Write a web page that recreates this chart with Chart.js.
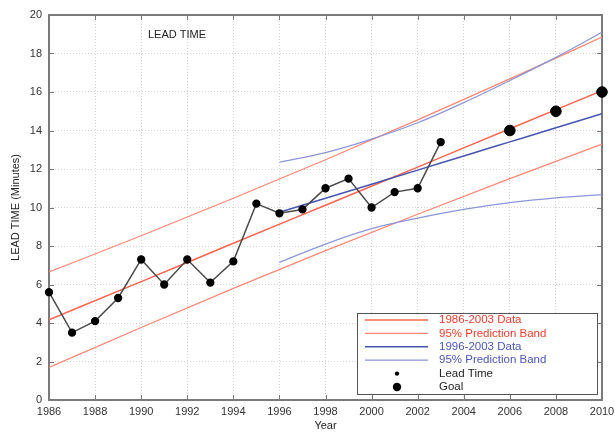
<!DOCTYPE html>
<html>
<head>
<meta charset="utf-8">
<script src="https://cdn.jsdelivr.net/npm/chart.js@4.4.1/dist/chart.umd.min.js"></script>
<style>
  html, body { margin: 0; padding: 0; background: #fff; }
  #wrap { width: 615px; height: 433px; }
</style>
</head>
<body>
<div id="wrap"><canvas id="chart"></canvas></div>
<script>
// observed lead time per year
const years = [1986, 1987, 1988, 1989, 1990, 1991, 1992, 1993, 1994, 1995, 1996, 1997, 1998, 1999, 2000, 2001, 2002, 2003];
const leadTime = [5.6, 3.5, 4.1, 5.3, 7.3, 6.0, 7.3, 6.1, 7.2, 10.2, 9.7, 9.9, 11.0, 11.5, 10.0, 10.8, 11.0, 13.4];

// goals
const goalYears = [2006, 2008, 2010];
const goalValues = [14, 15, 16];

// 1986-2003 fit and band
const fitYearsA = [1986, 1990, 1994, 1998, 2002, 2006, 2010];
const fitA = [4.17, 6.15, 8.14, 10.12, 12.1, 14.09, 16.07];
const bandAUpper = [6.65, 8.53, 10.48, 12.48, 14.55, 16.68, 18.85];
const bandALower = [1.69, 3.77, 5.8, 7.76, 9.65, 11.5, 13.29];

// 1996-2003 fit and band
const fitYearsB = [1996, 1998, 2000, 2002, 2004, 2006, 2008, 2010];
const fitB = [9.75, 10.48, 11.21, 11.94, 12.68, 13.41, 14.14, 14.87];
const bandBUpper = [12.35, 12.85, 13.55, 14.4, 15.45, 16.6, 17.8, 19.1];
const bandBLower = [7.15, 8.1, 8.9, 9.45, 9.9, 10.25, 10.5, 10.67];

const xTicks = [1986, 1988, 1990, 1992, 1994, 1996, 1998, 2000, 2002, 2004, 2006, 2008, 2010];
const yTicks = [0, 2, 4, 6, 8, 10, 12, 14, 16, 18, 20];

const FONT = '"Liberation Sans", Arial, sans-serif';

function pts(xs, ys) {
  return xs.map((x, i) => ({ x: x, y: ys[i] }));
}

const RED = 'rgb(250,100,80)';
const RED_BAND = 'rgb(252,135,115)';
const BLUE = 'rgb(70,85,175)';
const BLUE_BAND = 'rgb(140,150,215)';

function lineSet(label, data, color, width, order, legendText, hide) {
  return {
    label: label, data: data, borderColor: color, backgroundColor: color,
    borderWidth: width, pointRadius: 0, fill: false, order: order,
    cubicInterpolationMode: 'monotone', legendText: legendText, legendHide: hide
  };
}

const datasets = [
  {
    label: 'Lead Time', data: pts(years, leadTime), borderColor: '#4a4a4a', borderWidth: 1.5,
    pointRadius: 3.4, pointBackgroundColor: '#000', pointBorderColor: '#000', order: 0,
    clip: false, legendText: '#222', marker: 2.2
  },
  {
    label: 'Goal', data: pts(goalYears, goalValues), showLine: false, pointRadius: 5.3,
    pointBackgroundColor: '#000', pointBorderColor: '#000', order: 0,
    clip: false, legendText: '#222', marker: 4.2
  },
  lineSet('1986-2003 Data', pts(fitYearsA, fitA), RED, 1.5, 2, 'rgb(240,60,45)'),
  lineSet('95% Prediction Band', pts(fitYearsA, bandAUpper), RED_BAND, 1.2, 3, 'rgb(240,60,45)'),
  lineSet('', pts(fitYearsA, bandALower), RED_BAND, 1.2, 3, null, true),
  lineSet('1996-2003 Data', pts(fitYearsB, fitB), BLUE, 1.5, 1, 'rgb(75,85,180)'),
  lineSet('95% Prediction Band', pts(fitYearsB, bandBUpper), BLUE_BAND, 1.2, 1, 'rgb(75,85,180)'),
  lineSet('', pts(fitYearsB, bandBLower), BLUE_BAND, 1.2, 1, null, true)
];

const legendOrder = [2, 3, 5, 6, 0, 1];

const framePlugin = {
  id: 'frame',
  beforeDatasetsDraw(chart) {
    const ctx = chart.ctx;
    const a = chart.chartArea;
    const sx = chart.scales.x, sy = chart.scales.y;
    ctx.save();
    // inward ticks on all four sides
    ctx.strokeStyle = '#777';
    ctx.lineWidth = 1;
    ctx.beginPath();
    xTicks.forEach(v => {
      const p = Math.round(sx.getPixelForValue(v)) + 0.5;
      ctx.moveTo(p, a.bottom); ctx.lineTo(p, a.bottom - 5);
      ctx.moveTo(p, a.top); ctx.lineTo(p, a.top + 5);
    });
    yTicks.forEach(v => {
      const p = Math.round(sy.getPixelForValue(v)) + 0.5;
      ctx.moveTo(a.left, p); ctx.lineTo(a.left + 5, p);
      ctx.moveTo(a.right, p); ctx.lineTo(a.right - 5, p);
    });
    ctx.stroke();
    ctx.lineWidth = 2;
    ctx.strokeStyle = '#7a7a7a';
    ctx.strokeRect(a.left, a.top, a.right - a.left, a.bottom - a.top);
    ctx.restore();
  },
  afterDraw(chart) {
    const ctx = chart.ctx;
    const a = chart.chartArea;
    ctx.save();
    // title inside the plot
    ctx.fillStyle = '#222';
    ctx.font = '11px ' + FONT;
    ctx.textBaseline = 'middle';
    ctx.fillText('LEAD TIME', a.left + 99, a.top + 20);

    // legend box
    const bw = 240, bh = 81;
    const bx = a.right - 5 - bw, by = a.bottom - 6 - bh;
    ctx.fillStyle = '#fff';
    ctx.fillRect(bx, by, bw, bh);
    ctx.lineWidth = 1;
    ctx.strokeStyle = '#555';
    ctx.strokeRect(bx + 0.5, by + 0.5, bw, bh);
    legendOrder.forEach((idx, i) => {
      const ds = chart.data.datasets[idx];
      const cy = by + 7 + i * 13.4;
      if (ds.marker) {
        ctx.fillStyle = '#000';
        ctx.beginPath();
        ctx.arc(bx + 40, cy, ds.marker, 0, Math.PI * 2);
        ctx.fill();
      } else {
        ctx.strokeStyle = ds.borderColor;
        ctx.lineWidth = ds.borderWidth;
        ctx.beginPath();
        ctx.moveTo(bx + 8, cy); ctx.lineTo(bx + 71, cy);
        ctx.stroke();
      }
      ctx.fillStyle = ds.legendText;
      ctx.font = '11.5px ' + FONT;
      ctx.fillText(ds.label, bx + 82, cy);
    });
    ctx.restore();
  }
};

new Chart(document.getElementById('chart').getContext('2d'), {
  type: 'line',
  data: { datasets: datasets },
  options: {
    responsive: true,
    maintainAspectRatio: false,
    animation: false,
    layout: { padding: { left: 0, right: 13, top: 15, bottom: 0 } },
    plugins: { legend: { display: false }, tooltip: { enabled: false } },
    scales: {
      x: {
        type: 'linear', min: 1986, max: 2010,
        afterBuildTicks: s => { s.ticks = xTicks.map(v => ({ value: v })); },
        afterFit: s => { s.height = 33; s.paddingLeft = 0; s.paddingRight = 0; },
        grid: { color: '#d4d4d4', drawTicks: false, lineWidth: 1 },
        border: { display: false, dash: [1, 2] },
        ticks: { color: '#333', font: { family: FONT, size: 11 }, padding: 5, maxRotation: 0, autoSkip: false, callback: v => String(v) },
        title: { display: true, text: 'Year', color: '#222', font: { family: FONT, size: 11 }, padding: 0 }
      },
      y: {
        min: 0, max: 20,
        afterBuildTicks: s => { s.ticks = yTicks.map(v => ({ value: v })); },
        afterFit: s => { s.width = 49; },
        grid: { color: '#d4d4d4', drawTicks: false, lineWidth: 1 },
        border: { display: false, dash: [1, 2] },
        ticks: { color: '#333', font: { family: FONT, size: 11 }, padding: 7 },
        title: { display: true, text: 'LEAD TIME (Minutes)', color: '#222', font: { family: FONT, size: 11 }, padding: { top: 9, bottom: 0 } }
      }
    }
  },
  plugins: [framePlugin]
});
</script>
</body>
</html>
